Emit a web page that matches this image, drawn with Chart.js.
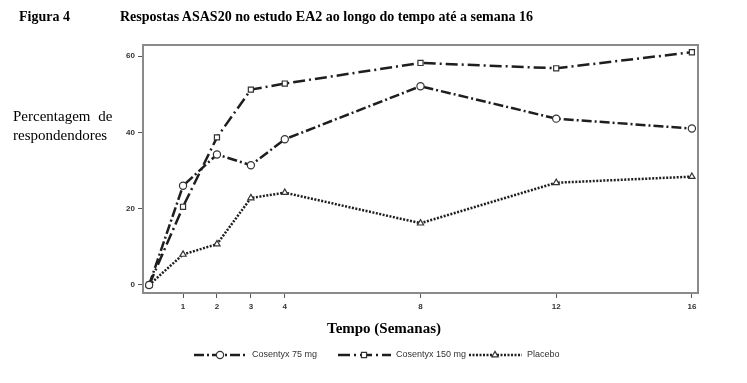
<!DOCTYPE html>
<html>
<head>
    <title>Figura 4</title>
    <script src="https://cdn.jsdelivr.net/npm/chart.js"></script>
    <style>
        body {
            margin: 0;
            background: #ffffff;
        }

        .wrap {
            position: relative;
            width: 747px;
            height: 383px;
        }

        .serif {
            position: absolute;
            font-family: 'Liberation Serif', serif;
            color: #000;
            white-space: nowrap;
        }

        #figNo { left: 19px; top: 9px; font-size: 14px; font-weight: bold; }
        #figTitle { left: 120px; top: 9px; font-size: 14px; font-weight: bold; }
        #yTitle { left: 13px; top: 107px; font-size: 15px; line-height: 19px; word-spacing: 4px; }
        #xTitle { left: 327px; top: 320px; font-size: 15px; font-weight: bold; }
    </style>
</head>
<body>
<div class="wrap">
    <canvas id="chart" width="747" height="383"></canvas>
    <div class="serif" id="figNo">Figura 4</div>
    <div class="serif" id="figTitle">Respostas ASAS20 no estudo EA2 ao longo do tempo até a semana 16</div>
    <div class="serif" id="yTitle">Percentagem de<br>respondendores</div>
    <div class="serif" id="xTitle">Tempo (Semanas)</div>
</div>

<script>
    // weeks on the x axis
    const weeks = [0, 1, 2, 3, 4, 8, 12, 16];
    const xTicks = [1, 2, 3, 4, 8, 12, 16];
    const yTicks = [0, 20, 40, 60];

    // % responders
    const cosentyx75 = [0, 26.0, 34.2, 31.4, 38.2, 52.1, 43.6, 41.0];
    const cosentyx150 = [0, 20.5, 38.7, 51.2, 52.8, 58.2, 56.8, 61.0];
    const placebo = [0, 8.0, 10.7, 22.8, 24.2, 16.2, 26.8, 28.4];

    const seriesNames = ['Cosentyx 75 mg', 'Cosentyx 150 mg', 'Placebo'];

    function toPoints(values) {
        return weeks.map((w, i) => ({x: w, y: values[i]}));
    }

    const ink = '#1e1e1e';

    // frame around plot area
    const framePlugin = {
        id: 'frame',
        beforeDatasetsDraw(chart) {
            const a = chart.chartArea;
            const ctx = chart.ctx;
            ctx.save();
            ctx.strokeStyle = '#8a8a8a';
            ctx.lineWidth = 2;
            ctx.strokeRect(a.left, a.top, a.right - a.left, a.bottom - a.top);
            ctx.restore();
        }
    };

    // legend drawn under the x axis title
    const legendPlugin = {
        id: 'bottomLegend',
        afterDraw(chart) {
            const ctx = chart.ctx;
            const starts = [194, 338, 469];
            const y = 355;
            ctx.save();
            chart.data.datasets.forEach((ds, i) => {
                const x0 = starts[i];
                ctx.strokeStyle = ds.borderColor;
                ctx.lineWidth = ds.borderWidth;
                ctx.setLineDash(ds.borderDash);
                ctx.beginPath();
                ctx.moveTo(x0, y);
                ctx.lineTo(x0 + 53, y);
                ctx.stroke();
                ctx.setLineDash([]);
                ctx.fillStyle = '#fff';
                ctx.strokeStyle = '#333';
                ctx.lineWidth = 1.2;
                Chart.helpers.drawPoint(ctx, {
                    pointStyle: ds.pointStyle,
                    radius: 3.6,
                    borderWidth: 1.2
                }, x0 + 26, y);
                ctx.fillStyle = '#333';
                ctx.font = '9px "Liberation Sans", Arial, sans-serif';
                ctx.textBaseline = 'middle';
                ctx.fillText(ds.label, x0 + 58, y);
            });
            ctx.restore();
        }
    };

    const tickFont = {family: '"Liberation Sans", Arial, sans-serif', size: 8, weight: 'bold'};

    function seriesStyle(dash, shape) {
        return {
            borderColor: ink,
            borderWidth: 2.5,
            borderDash: dash,
            pointStyle: shape,
            pointRadius: 3.6,
            pointBorderWidth: 1.2,
            pointBackgroundColor: '#fff',
            pointBorderColor: '#333'
        };
    }

    new Chart(document.getElementById('chart'), {
        type: 'line',
        data: {
            datasets: [
                Object.assign({label: seriesNames[0], data: toPoints(cosentyx75)}, seriesStyle([10, 3, 2, 3], 'circle')),
                Object.assign({label: seriesNames[1], data: toPoints(cosentyx150)}, seriesStyle([12, 4, 2, 4], 'rect')),
                Object.assign({label: seriesNames[2], data: toPoints(placebo)}, seriesStyle([2, 1.5], 'triangle'))
            ]
        },
        options: {
            responsive: false,
            animation: false,
            layout: {padding: {left: 0, top: 45, right: 49, bottom: 60}},
            plugins: {
                legend: {display: false},
                tooltip: {enabled: false}
            },
            scales: {
                x: {
                    type: 'linear',
                    min: -0.18,
                    max: 16.18,
                    afterBuildTicks(s) { s.ticks = xTicks.map(v => ({value: v})); },
                    afterFit(s) { s.height = 30; },
                    grid: {drawOnChartArea: false, drawTicks: true, tickLength: 5, color: '#555'},
                    border: {color: '#8a8a8a', width: 2},
                    ticks: {color: '#333', font: tickFont, padding: 4, maxRotation: 0}
                },
                y: {
                    type: 'linear',
                    min: -2.1,
                    max: 62.9,
                    afterBuildTicks(s) { s.ticks = yTicks.map(v => ({value: v})); },
                    afterFit(s) { s.width = 143; },
                    grid: {drawOnChartArea: false, drawTicks: true, tickLength: 5, color: '#555'},
                    border: {color: '#8a8a8a', width: 2},
                    ticks: {color: '#333', font: tickFont, padding: 3}
                }
            }
        },
        plugins: [framePlugin, legendPlugin]
    });
</script>
</body>
</html>
